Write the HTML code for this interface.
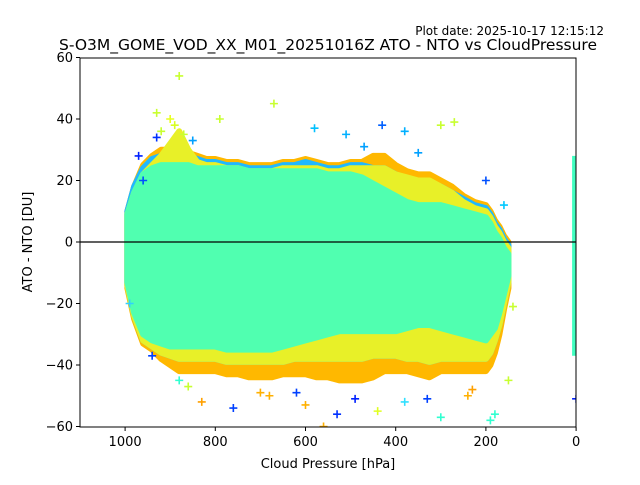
<!DOCTYPE html>
<html><head><meta charset="utf-8">
<style>
html,body{margin:0;padding:0;background:#fff;}
svg text{font-family:"DejaVu Sans","Liberation Sans",sans-serif;fill:#000;}
</style></head>
<body>
<svg id="chart" width="640" height="480" viewBox="0 0 640 480">
  <rect x="0" y="0" width="640" height="480" fill="#fff"/>
  <text x="604" y="35" font-size="12" text-anchor="end">Plot date: 2025-10-17 12:15:12</text>
  <text x="328" y="50" font-size="15.5" text-anchor="middle">S-O3M_GOME_VOD_XX_M01_20251016Z ATO - NTO vs CloudPressure</text>
  <defs><clipPath id="plotclip"><rect x="80" y="58" width="496" height="369"/></clipPath></defs>
  <g id="plot" clip-path="url(#plotclip)"></g>
  <line x1="80" y1="242" x2="576" y2="242" stroke="#000" stroke-width="1.2"/>
  <rect x="80" y="58" width="496" height="369" fill="none" stroke="#000" stroke-width="1"/>
  <g id="xticks"></g>
  <g id="yticks"></g>
  <text x="328" y="468" font-size="13" text-anchor="middle">Cloud Pressure [hPa]</text>
  <text transform="translate(32,242) rotate(-90)" font-size="13" text-anchor="middle">ATO - NTO [DU]</text>
</svg>
<script>
const pressureBins=[995,980,960,940,920,900,880,860,840,820,800,775,750,725,700,675,650,625,600,575,550,525,500,475,450,425,400,375,350,325,300,275,250,225,200,190,180,170,160,150];
const outerTop=[10,18,25,28,30,30,30,29,28,27,27,26,26,25,25,25,26,26,27,26,25,25,26,26,28,28,25,23,22,22,20,18,15,13,12,10,7,5,2,0];
const outerBot=[-15,-25,-33,-35,-38,-40,-42,-42,-42,-42,-42,-43,-43,-44,-44,-44,-43,-43,-43,-44,-44,-45,-45,-45,-44,-42,-42,-42,-43,-44,-42,-42,-42,-42,-42,-40,-36,-30,-22,-15];
const cyanTop=[10,18,24,27,28,28,28,28,27,26,26,25,25,24,24,24,25,25,26,25,24,24,25,25,24,24,22,20,19,19,18,16,14,12,11,9,6,4,1,-1];
const yellowTop=[9,16,22,25,28,32,36,30,26,25,25,24,24,23,23,23,24,24,24,24,23,23,24,24,24,24,22,21,20,20,18,16,13,11,10,8,5,3,0,-2];
const yellowBot=[-14,-24,-32,-34,-36,-37,-38,-38,-38,-38,-38,-39,-39,-39,-39,-39,-39,-38,-38,-38,-38,-38,-38,-38,-37,-37,-37,-38,-38,-39,-38,-38,-38,-38,-38,-36,-32,-27,-20,-13];
const coreTop=[9,16,22,24,25,25,25,25,24,24,24,24,24,23,23,23,23,23,23,23,22,22,22,21,19,17,15,13,12,12,12,11,10,9,8,6,3,1,-2,-4];
const coreBot=[-13,-23,-30,-32,-33,-34,-34,-34,-34,-34,-34,-35,-35,-35,-35,-35,-34,-33,-32,-31,-30,-29,-29,-29,-29,-29,-29,-28,-27,-27,-28,-29,-30,-31,-32,-30,-28,-23,-17,-11];
const stripPressure=0, stripTop=28, stripBot=-37;
const outlierP=[880,670,930,790,430,380,300,270,580,510,970,930,200,160,140,150,180,190,300,330,380,440,490,530,560,600,620,680,700,760,830,860,880,940,990,0,240,230,900,850,470,350,960,920,890,870];
const outlierV=[54,45,42,40,38,36,38,39,37,35,28,34,20,12,-21,-45,-56,-58,-57,-51,-52,-55,-51,-56,-60,-53,-49,-50,-49,-54,-52,-47,-45,-37,-20,-51,-50,-48,40,33,31,29,20,36,38,35];
const outlierC=["#c8ff30","#c8ff30","#c8ff30","#c8ff30","#0060ff","#00b0ff","#c8ff30","#c8ff30","#00c0ff","#00b0ff","#0020ff","#0030ff","#0050ff","#00c8ff","#c8ff30","#c8ff30","#30ffd0","#30ffd0","#30ffd0","#0040ff","#30e0ff","#e0ff20","#0020ff","#0030ff","#ffb000","#ffb000","#0040ff","#ffb000","#ffb000","#0040ff","#ffa000","#c8ff30","#30ffd0","#0040ff","#30d0ff","#0020ff","#ffb000","#ffa000","#e8ff20","#00a0ff","#00a0ff","#00a0ff","#0050ff","#c8ff30","#d8ff20","#c8ff30"];
const xTicks=[1000,800,600,400,200,0];
const yTicks=[60,40,20,0,-20,-40,-60];

const X=p=>80+(1100-p)*0.451;
const Y=v=>242-v*3.075;
const NS="http://www.w3.org/2000/svg";
const plot=document.getElementById('plot');
function band(top,bot,color,name){
  let d="M"+pressureBins.map((p,i)=>X(p)+","+Y(top[i])).join("L");
  for(let i=pressureBins.length-1;i>=0;i--) d+="L"+X(pressureBins[i])+","+Y(bot[i]);
  d+="Z";
  const el=document.createElementNS(NS,"path");
  el.setAttribute("d",d);el.setAttribute("fill",color);
  el.setAttribute("stroke",color);el.setAttribute("stroke-width","6");el.setAttribute("stroke-linejoin","round");
  
  
  plot.appendChild(el);
}
band(outerTop,outerBot,"#ffb800","outer-points-band");
band(cyanTop,yellowBot,"#20b8ff","cyan-points-band");
band(yellowTop,yellowBot,"#e8f028","mid-points-band");
band(coreTop,coreBot,"#50ffb0","core-points-band");
const s=document.createElementNS(NS,"rect");
s.setAttribute("x",X(stripPressure)-4);s.setAttribute("y",Y(stripTop));
s.setAttribute("width",8);s.setAttribute("height",Y(stripBot)-Y(stripTop));
s.setAttribute("fill","#40ffc0");


plot.appendChild(s);
for(let i=0;i<outlierP.length;i++){
  const x=X(outlierP[i]),y=Y(outlierV[i]);
  const g=document.createElementNS(NS,"path");
  g.setAttribute("d",`M${x-4},${y}H${x+4}M${x},${y-4}V${y+4}`);
  g.setAttribute("stroke",outlierC[i]);g.setAttribute("stroke-width","1.6");
  
  
  plot.appendChild(g);
}
const xt=document.getElementById('xticks');
xTicks.forEach(t=>{
  const x=X(t);
  const l=document.createElementNS(NS,"line");
  l.setAttribute("x1",x);l.setAttribute("x2",x);l.setAttribute("y1",427);l.setAttribute("y2",431);l.setAttribute("stroke","#000");
  
  
  xt.appendChild(l);
  const tx=document.createElementNS(NS,"text");
  tx.setAttribute("x",x);tx.setAttribute("y",446);tx.setAttribute("font-size","13");tx.setAttribute("text-anchor","middle");
  tx.textContent=t;
  
  
  xt.appendChild(tx);
});
const yt=document.getElementById('yticks');
yTicks.forEach(t=>{
  const y=Y(t);
  const l=document.createElementNS(NS,"line");
  l.setAttribute("x1",76);l.setAttribute("x2",80);l.setAttribute("y1",y);l.setAttribute("y2",y);l.setAttribute("stroke","#000");
  
  
  yt.appendChild(l);
  const tx=document.createElementNS(NS,"text");
  tx.setAttribute("x",73);tx.setAttribute("y",y+4.5);tx.setAttribute("font-size","13");tx.setAttribute("text-anchor","end");
  tx.textContent=t<0?"\u2212"+(-t):t;
  
  
  yt.appendChild(tx);
});
</script>
</body></html>
